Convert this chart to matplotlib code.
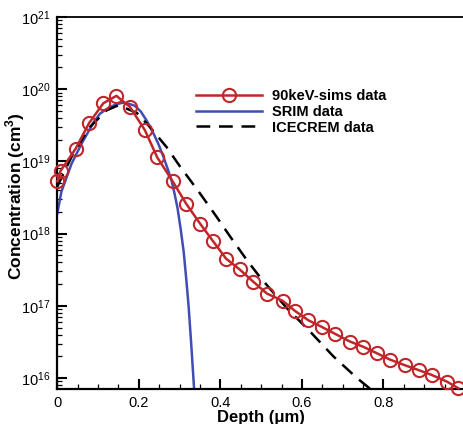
import matplotlib
matplotlib.use("Agg")
import matplotlib.pyplot as plt
from matplotlib.ticker import LogLocator, MultipleLocator, NullFormatter

plt.rcParams['font.family'] = ['Liberation Sans', 'DejaVu Sans']
plt.rcParams['mathtext.fontset'] = 'custom'
plt.rcParams['mathtext.rm'] = 'Liberation Sans'
plt.rcParams['mathtext.bf'] = 'Liberation Sans:bold'

# 90keV-sims data (markers)
sims_depth = [0.0, 0.008, 0.045, 0.078, 0.113, 0.145, 0.178, 0.215, 0.245, 0.283,
              0.316, 0.350, 0.381, 0.414, 0.447, 0.481, 0.514, 0.553, 0.583, 0.616,
              0.649, 0.681, 0.718, 0.751, 0.784, 0.816, 0.853, 0.886, 0.919, 0.956, 0.984]
sims_conc = [5.3e18, 7.4e18, 1.5e19, 3.4e19, 6.4e19, 8.1e19, 5.7e19, 2.7e19, 1.14e19, 5.3e18,
             2.6e18, 1.38e18, 8.0e17, 4.5e17, 3.2e17, 2.15e17, 1.48e17, 1.17e17, 8.5e16, 6.3e16,
             5.1e16, 4.1e16, 3.2e16, 2.7e16, 2.2e16, 1.8e16, 1.5e16, 1.29e16, 1.1e16, 8.9e15, 7.2e15]

# SRIM data
srim_depth = [0.0, 0.01, 0.035, 0.06, 0.09, 0.105, 0.125, 0.145, 0.16, 0.175, 0.19, 0.205,
              0.22, 0.235, 0.248, 0.26, 0.27, 0.28, 0.2875, 0.295, 0.3025, 0.31, 0.316,
              0.322, 0.3285, 0.335, 0.34]
srim_conc = [1.9e18, 3.8e18, 9.3e18, 1.78e19, 3.55e19, 4.6e19, 5.5e19, 6.2e19, 6.5e19, 6.3e19,
             5.9e19, 4.9e19, 3.6e19, 2.5e19, 1.74e19, 1.17e19, 8.1e18, 5.5e18, 3.6e18, 2.24e18,
             1.17e18, 5.6e17, 2.45e17, 1.0e17, 2.95e16, 7.9e15, 2.7e15]

# ICECREM data
ice_depth = [0.0, 0.039, 0.08, 0.121, 0.15, 0.195, 0.227, 0.268, 0.301, 0.326,
             0.35, 0.391, 0.424, 0.465, 0.497, 0.538, 0.563, 0.62, 0.677, 0.735, 0.766, 0.78]
ice_conc = [4.5e18, 1.29e19, 3.0e19, 5.1e19, 6.0e19, 4.7e19, 3.0e19, 1.58e19, 8.5e18, 5.5e18,
            3.6e18, 1.7e18, 9.1e17, 4.3e17, 2.5e17, 1.35e17, 9.3e16, 4.4e16, 2.0e16, 1.0e16, 7.2e15, 5.5e15]

xticks = [0, 0.2, 0.4, 0.6, 0.8, 1.0]
xticklabels = ['0', '0.2', '0.4', '0.6', '0.8', '']

fig = plt.figure(figsize=(4.64, 4.24), dpi=100)
ax = fig.add_axes([57.3/464, 1-389/424, (465-57.3)/464, (389-17)/424])

red = '#C0262A'
blue = '#3F4DB5'

ax.plot(sims_depth, sims_conc, color=red, lw=1.8, marker='o', ms=9.5, mfc='none',
        mec=red, mew=1.5, label='90keV-sims data', clip_on=False, zorder=3)
ax.plot(srim_depth, srim_conc, color=blue, lw=1.8, label='SRIM data', zorder=2)
ax.plot(ice_depth, ice_conc, color='black', lw=1.8, ls=(0, (5.5, 3.5)), label='ICECREM data', zorder=2)

ax.set_yscale('log')
ax.set_xlim(0, 1.0)
ax.set_ylim(7.05e15, 1e21)

ax.set_xticks(xticks)
ax.set_xticklabels(xticklabels)
ax.xaxis.set_minor_locator(MultipleLocator(0.05))
ax.yaxis.set_major_locator(LogLocator(base=10, numticks=10))
ax.yaxis.set_minor_locator(LogLocator(base=10, subs=range(2, 10), numticks=20))
ax.yaxis.set_minor_formatter(NullFormatter())

ax.tick_params(which='major', direction='in', length=7, width=1.5, labelsize=10.5, pad=5)
ax.tick_params(which='minor', direction='in', length=3.5, width=0.9)
ax.tick_params(axis='x', which='both', top=False)
ax.tick_params(axis='y', which='both', right=False)

for s in ['left', 'bottom']:
    ax.spines[s].set_linewidth(1.6)
ax.spines['top'].set_linewidth(1.3)
ax.spines['right'].set_visible(False)

ax.set_xlabel('Depth (μm)', fontsize=12, fontweight='bold', labelpad=0)
ax.set_ylabel('Concentration (cm$^{\\mathbf{3}}$)', fontsize=12.5, fontweight='bold')
ax.yaxis.set_label_coords(-0.074, 0.52)

leg = ax.legend(loc='upper left', bbox_to_anchor=(0.323, 0.826), frameon=False,
                prop={'weight': 'bold', 'size': 10.5}, handlelength=4.5,
                labelspacing=0.12, handletextpad=0.7, borderpad=0)

fig.savefig('out.png', dpi=100)
